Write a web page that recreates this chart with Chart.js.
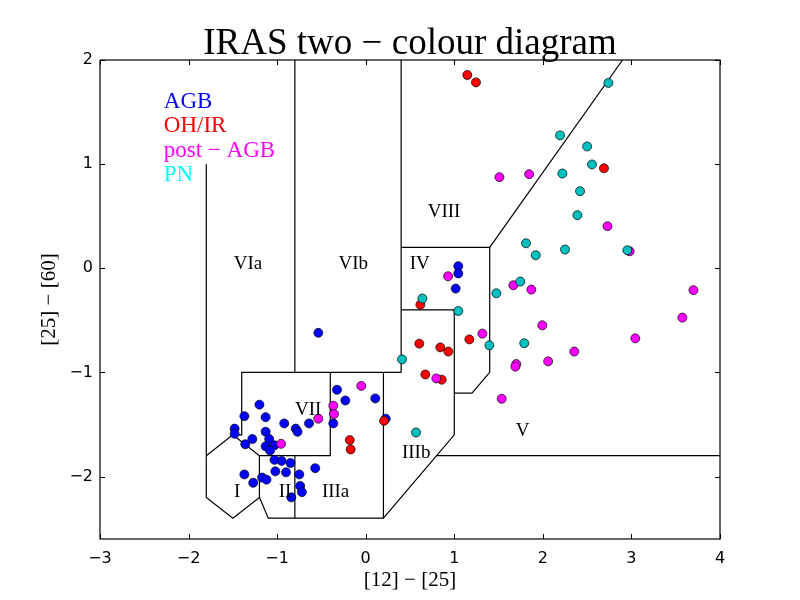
<!DOCTYPE html>
<html>
<head>
<meta charset="utf-8">
<script src="https://cdn.jsdelivr.net/npm/chart.js@4.4.0/dist/chart.umd.min.js"></script>
<style>
html,body{margin:0;padding:0;background:#fff;}
#wrap{width:800px;height:600px;}
</style>
</head>
<body>
<div id="wrap"><canvas id="c" width="800" height="600"></canvas></div>
<script>
// ---------- data ----------
const xTicks = [-3, -2, -1, 0, 1, 2, 3, 4];
const yTicks = [-2, -1, 0, 1, 2];

const agb = [[-1.20,-1.31],[-1.37,-1.42],[-1.13,-1.43],[-1.48,-1.54],[-1.48,-1.59],[-0.92,-1.49],[-0.79,-1.54],[-0.77,-1.57],[-0.64,-1.49],[-1.13,-1.57],[-1.28,-1.64],[-1.36,-1.69],[-1.09,-1.64],[-1.13,-1.71],[-1.03,-1.70],[-1.08,-1.75],[-1.03,-1.84],[-0.95,-1.85],[-0.85,-1.87],[-1.02,-1.95],[-0.90,-1.96],[-1.37,-1.98],[-1.27,-2.06],[-1.17,-2.01],[-1.12,-2.03],[-0.75,-1.98],[-0.57,-1.92],[-0.74,-2.09],[-0.72,-2.15],[-0.84,-2.20],[-0.535,-0.62],[-0.324,-1.167],[-0.23,-1.27],[0.108,-1.25],[-0.366,-1.49],[0.226,-1.445],[1.045,0.02],[1.045,-0.05],[1.016,-0.195]];
const ohir = [[1.147,1.856],[1.245,1.785],[2.69,0.96],[0.617,-0.35],[1.17,-0.683],[0.605,-0.724],[0.842,-0.76],[0.933,-0.80],[0.673,-1.02],[0.858,-1.07],[-0.18,-1.65],[-0.17,-1.74],[0.207,-1.465]];
const postAgb = [[1.51,0.875],[1.845,0.904],[2.73,0.404],[2.98,0.163],[0.93,-0.077],[1.667,-0.163],[1.87,-0.205],[3.70,-0.21],[3.575,-0.474],[1.994,-0.548],[1.317,-0.628],[3.044,-0.673],[2.355,-0.80],[2.06,-0.894],[1.70,-0.92],[1.69,-0.945],[0.797,-1.058],[1.535,-1.253],[-0.05,-1.13],[-0.366,-1.32],[-0.358,-1.40],[-0.535,-1.445],[-0.956,-1.686]];
const pn = [[2.74,1.78],[2.194,1.276],[2.50,1.17],[2.555,0.997],[2.22,0.91],[2.42,0.74],[2.39,0.51],[1.81,0.24],[1.92,0.125],[2.25,0.18],[2.954,0.173],[0.64,-0.29],[1.045,-0.41],[1.475,-0.24],[1.745,-0.128],[1.396,-0.74],[1.79,-0.72],[0.41,-0.875],[0.568,-1.577]];

// region boundaries (polylines in data coordinates)
const boundaries = [
  [[-1.8,1.0],[-1.8,-1.8]],
  [[-1.8,-1.8],[-1.5,-1.6],[-1.2,-1.8],[-1.2,-2.2],[-1.5,-2.4],[-1.8,-2.2],[-1.8,-1.8]],
  [[-1.5,-1.6],[-1.4,-1.6],[-1.4,-1.0],[0.4,-1.0]],
  [[-1.2,-1.8],[-0.4,-1.8],[-0.4,-1.0]],
  [[-1.2,-2.2],[-1.1,-2.4],[0.2,-2.4],[0.2,-1.0]],
  [[-0.8,-1.8],[-0.8,-2.4]],
  [[-0.8,2.0],[-0.8,-1.0]],
  [[0.4,2.0],[0.4,-1.0]],
  [[0.4,0.2],[1.4,0.2],[1.4,-1.0],[1.2,-1.2],[1.0,-1.2]],
  [[0.4,-0.4],[1.0,-0.4],[1.0,-1.6],[0.2,-2.4]],
  [[0.8,-1.8],[4.0,-1.8]],
  [[1.4,0.2],[2.9,2.0]]
];

const regionLabels = [
  ['VIa', -1.33, 0.04], ['VIb', -0.14, 0.04], ['IV', 0.61, 0.04], ['VIII', 0.885, 0.54],
  ['VII', -0.65, -1.36], ['IIIa', -0.34, -2.15], ['IIIb', 0.57, -1.77], ['V', 1.77, -1.56],
  ['I', -1.45, -2.15], ['II', -0.91, -2.15]
];
const legendLabels = [
  ['AGB', '#0000ff', 1.60], ['OH/IR', '#ff0000', 1.365], ['post \u2212 AGB', '#ff00ff', 1.13], ['PN', '#00ffff', 0.90]
];
const legendX = -2.28;

// ---------- chart ----------
const toXY = a => a.map(p => ({x: p[0], y: p[1]}));
const serif = '"Liberation Serif", "DejaVu Serif", serif';

const datasets = [];
boundaries.forEach(b => datasets.push({
  data: toXY(b), showLine: true, borderColor: '#000', borderWidth: 1.2,
  pointRadius: 0, fill: false, order: 10, tension: 0
}));
function pts(data, color, order) {
  return { data: toXY(data), backgroundColor: color, borderColor: '#000', borderWidth: 0.7,
           pointRadius: 4.5, pointHoverRadius: 4.5, showLine: false, order: order };
}
datasets.push(pts(agb, '#0000ff', 4));
datasets.push(pts(ohir, '#ff0000', 3));
datasets.push(pts(postAgb, '#ff00ff', 2));
datasets.push(pts(pn, '#00bfbf', 1));

const minus = v => (v < 0 ? '\u2212' + Math.abs(v) : String(v));

const decor = {
  id: 'decor',
  afterDatasetsDraw(chart) {
    const ctx = chart.ctx, a = chart.chartArea, xs = chart.scales.x, ys = chart.scales.y;
    ctx.save();
    ctx.strokeStyle = '#000'; ctx.lineWidth = 1;
    ctx.beginPath();
    xTicks.forEach(v => { const p = Math.round(xs.getPixelForValue(v)) + 0.5;
      ctx.moveTo(p, a.bottom); ctx.lineTo(p, a.bottom - 5); ctx.moveTo(p, a.top); ctx.lineTo(p, a.top + 5); });
    yTicks.forEach(v => { const p = Math.round(ys.getPixelForValue(v)) + 0.5;
      ctx.moveTo(a.left, p); ctx.lineTo(a.left + 5, p); ctx.moveTo(a.right, p); ctx.lineTo(a.right - 5, p); });
    ctx.stroke();
    ctx.lineWidth = 1.2;
    ctx.strokeRect(a.left, a.top, a.right - a.left, a.bottom - a.top);

    // region labels
    ctx.fillStyle = '#000';
    ctx.font = '19px ' + serif;
    ctx.textAlign = 'center'; ctx.textBaseline = 'middle';
    regionLabels.forEach(l => ctx.fillText(l[0], xs.getPixelForValue(l[1]), ys.getPixelForValue(l[2])));
    // legend texts
    ctx.font = '23px ' + serif;
    ctx.textAlign = 'left';
    legendLabels.forEach(l => { ctx.fillStyle = l[1]; ctx.fillText(l[0], xs.getPixelForValue(legendX), ys.getPixelForValue(l[2])); });
    // title
    ctx.fillStyle = '#000';
    ctx.font = '37px ' + serif;
    ctx.textAlign = 'center'; ctx.textBaseline = 'alphabetic';
    ctx.fillText('IRAS two \u2212 colour diagram', (a.left + a.right) / 2, 54);
    // axis titles
    ctx.font = '21px ' + serif;
    ctx.textBaseline = 'middle';
    ctx.fillText('[12] \u2212 [25]', (a.left + a.right) / 2, 580);
    ctx.translate(49, (a.top + a.bottom) / 2);
    ctx.rotate(-Math.PI / 2);
    ctx.fillText('[25] \u2212 [60]', 0, 0);
    ctx.restore();
  }
};

new Chart(document.getElementById('c'), {
  type: 'scatter',
  data: { datasets },
  options: {
    responsive: false, animation: false,
    layout: { padding: { top: 60, right: 80, left: 0, bottom: 0 } },
    plugins: { legend: { display: false }, tooltip: { enabled: false }, title: { display: false } },
    scales: {
      x: {
        type: 'linear', min: -3, max: 4,
        afterBuildTicks: s => { s.ticks = xTicks.map(v => ({value: v})); },
        afterFit: s => { s.height = 61; },
        grid: { display: false, drawTicks: false }, border: { display: false },
        ticks: { color: '#000', font: { family: '"DejaVu Sans"', size: 16 }, padding: 10, callback: v => minus(v), maxRotation: 0, autoSkip: false }
      },
      y: {
        type: 'linear', min: -2.6, max: 2,
        afterBuildTicks: s => { s.ticks = yTicks.map(v => ({value: v})); },
        afterFit: s => { s.width = 100; },
        grid: { display: false, drawTicks: false }, border: { display: false },
        ticks: { color: '#000', font: { family: '"DejaVu Sans"', size: 16 }, padding: 7, callback: v => minus(v), autoSkip: false }
      }
    }
  },
  plugins: [decor]
});
</script>
</body>
</html>
